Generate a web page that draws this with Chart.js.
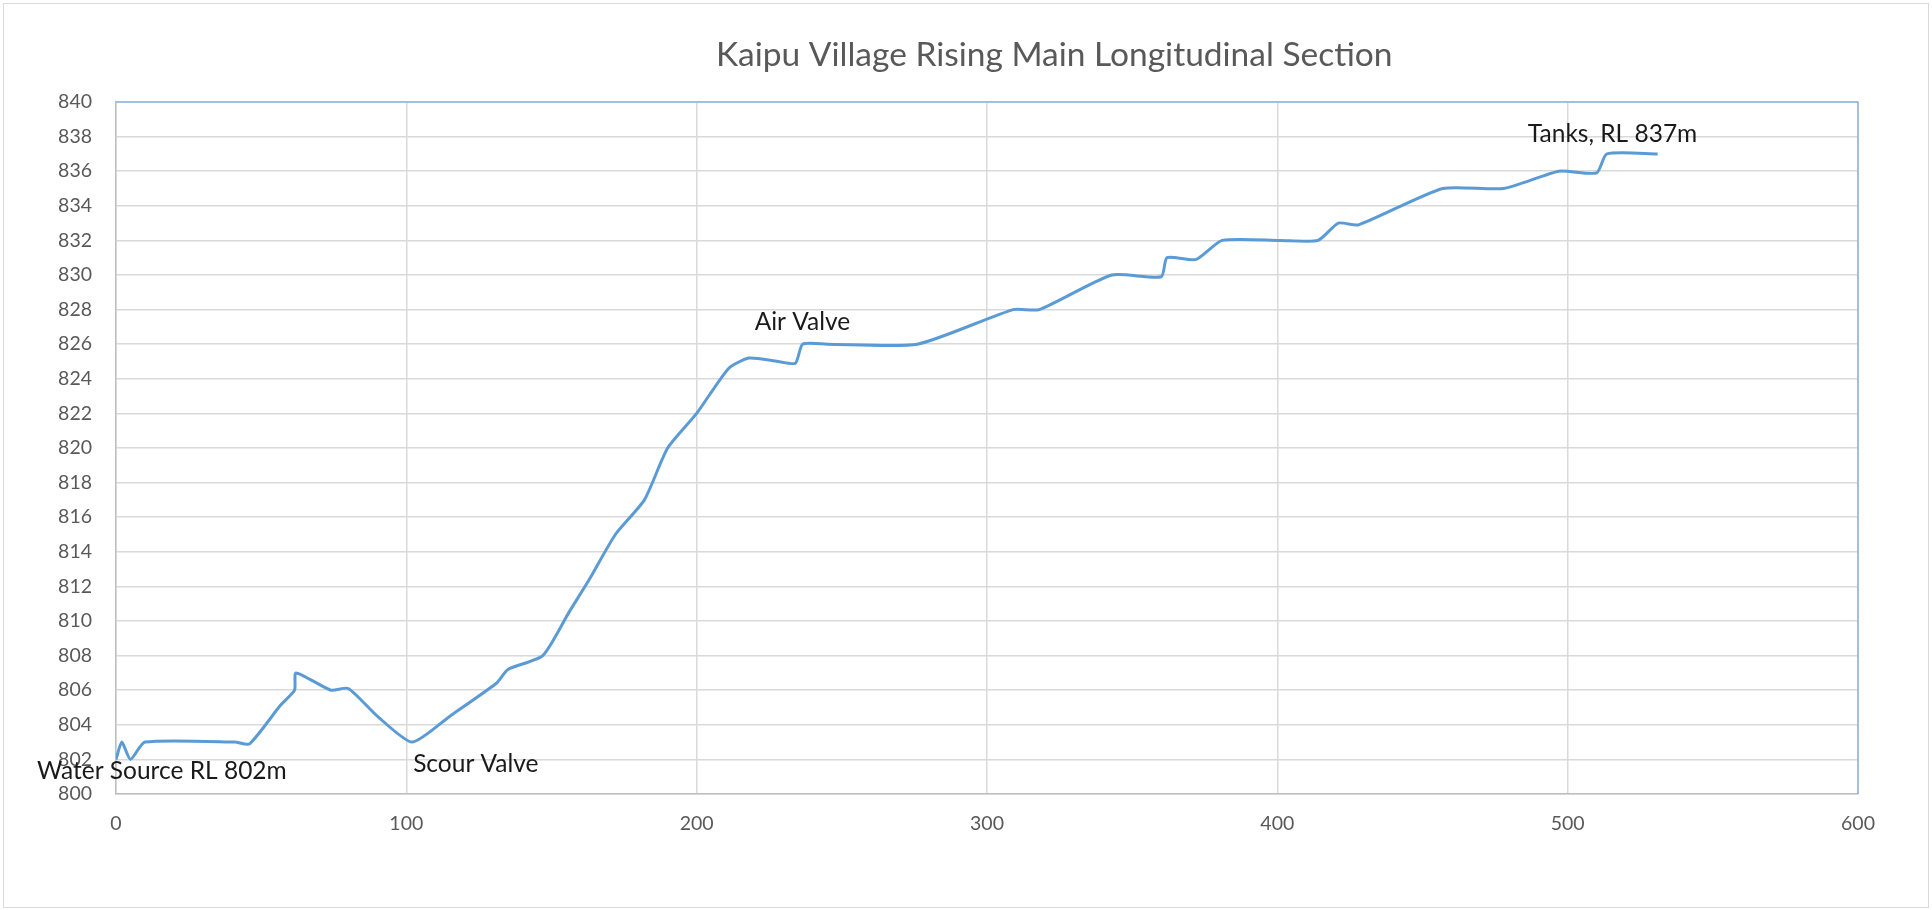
<!DOCTYPE html>
<html>
<head>
<meta charset="utf-8">
<title>Kaipu Village Rising Main Longitudinal Section</title>
<script src="https://cdn.jsdelivr.net/npm/chart.js@4.4.1/dist/chart.umd.min.js"></script>
<style>
    html, body { margin: 0; padding: 0; background: #ffffff; }
    #wrap { width: 1932px; height: 910px; }
</style>
</head>
<body>
<div id="wrap"><canvas id="grafico" width="1932" height="910"></canvas></div>
<script>
const distancias = [0, 2, 5, 10, 41, 46, 56.5, 61.5, 62, 74, 80, 90, 102, 115, 131, 135, 147, 156, 163, 172, 182, 190, 200, 211, 218, 228, 234, 236.5, 245, 276, 309, 318, 343, 360, 362, 372, 381, 401, 414, 421, 428, 457, 478, 497, 510, 513.5, 531];
const niveis = [802, 803, 802, 803, 803, 802.9, 805.1, 806, 807, 806, 806.1, 804.5, 803, 804.5, 806.4, 807.2, 808, 810.5, 812.4, 815, 817, 820, 822, 824.6, 825.2, 825, 824.9, 826, 826, 826, 828, 828, 830, 829.9, 831, 830.9, 832, 832, 832, 833, 832.9, 835, 835, 836, 835.9, 837, 837];

const tituloGrafico = 'Kaipu Village Rising Main Longitudinal Section';
const rotulos = ['Water Source RL 802m', 'Scour Valve', 'Air Valve', 'Tanks, RL 837m'];
const rotuloIndice = [0, 12, 27, 45]; // which point each label belongs to

const pontos = distancias.map((d, i) => ({ x: d, y: niveis[i] }));

// pixel offsets of each label from its point (left edge, baseline)
const deslocamentos = [[-79, 20], [1, 30], [-48, -14], [-79, -12]];

const pluginExtras = {
    id: 'extras',
    beforeDraw(chart) {
        const c = chart.ctx;
        c.save();
        c.fillStyle = '#ffffff';
        c.fillRect(0, 0, chart.width, chart.height);
        c.strokeStyle = '#d9d9d9';
        c.lineWidth = 1;
        c.strokeRect(3.5, 3.5, chart.width - 7, chart.height - 6);
        c.restore();
    },
    beforeDatasetsDraw(chart) {
        const a = chart.chartArea;
        const c = chart.ctx;
        c.save();
        c.strokeStyle = '#8db3e2';
        c.lineWidth = 1.5;
        c.beginPath();
        c.moveTo(a.left, a.top);
        c.lineTo(a.right, a.top);
        c.lineTo(a.right, a.bottom);
        c.stroke();
        c.restore();
    },
    afterDatasetsDraw(chart) {
        const c = chart.ctx;
        const sx = chart.scales.x;
        const sy = chart.scales.y;
        c.save();
        c.fillStyle = '#595959';
        c.font = '33.5px Lato';
        c.textBaseline = 'alphabetic';
        c.textAlign = 'left';
        c.fillText(tituloGrafico, 716, 66);

        c.fillStyle = '#1a1a1a';
        c.font = '24.5px Lato';
        rotulos.forEach((txt, i) => {
            const p = pontos[rotuloIndice[i]];
            const px = sx.getPixelForValue(p.x) + deslocamentos[i][0];
            const py = sy.getPixelForValue(p.y) + deslocamentos[i][1];
            c.fillText(txt, px, py);
        });
        c.restore();
    }
};

const ctx = document.getElementById('grafico').getContext('2d');
new Chart(ctx, {
    type: 'line',
    data: {
        datasets: [{
            label: 'RL',
            data: pontos,
            borderColor: '#5b9bd5',
            borderWidth: 3,
            pointRadius: 0,
            tension: 0.2,
            fill: false
        }]
    },
    options: {
        responsive: false,
        animation: false,
        layout: { padding: { top: 102, right: 74, left: 0, bottom: 0 } },
        plugins: {
            legend: { display: false },
            title: { display: false },
            tooltip: { enabled: false }
        },
        scales: {
            x: {
                type: 'linear',
                min: 0,
                max: 600,
                ticks: { stepSize: 100, padding: 18, color: '#595959', font: { family: 'Lato', size: 19.5 } },
                grid: { color: '#d9d9d9', lineWidth: 1.5, drawTicks: false },
                border: { color: '#bfbfbf', width: 1.5 },
                afterFit(scale) { scale.height = 116; }
            },
            y: {
                min: 800,
                max: 840,
                ticks: { stepSize: 2, padding: 24, color: '#595959', font: { family: 'Lato', size: 19.5 } },
                grid: { color: '#d9d9d9', lineWidth: 1.5, drawTicks: false },
                border: { color: '#bfbfbf', width: 1.5 },
                afterFit(scale) { scale.width = 116; }
            }
        }
    },
    plugins: [pluginExtras]
});
</script>
</body>
</html>
